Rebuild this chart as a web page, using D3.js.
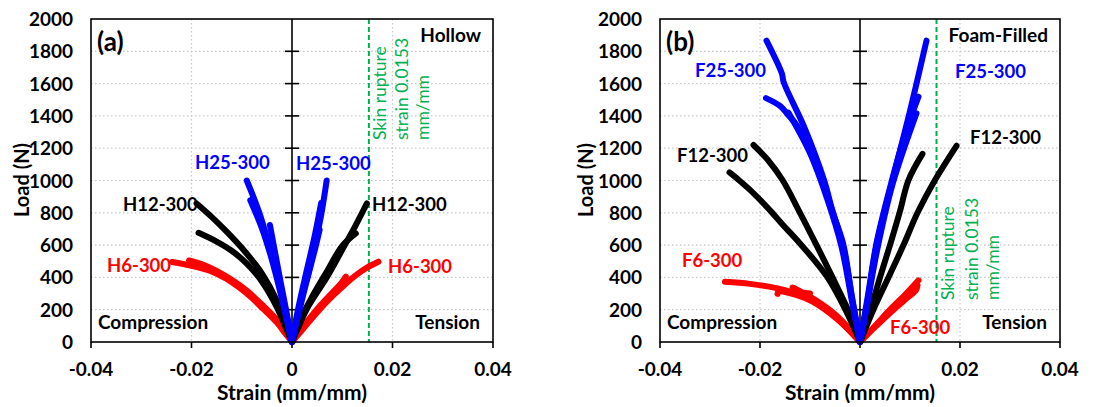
<!DOCTYPE html>
<html><head><meta charset="utf-8">
<script src="https://cdn.jsdelivr.net/npm/d3@7"></script>
<style>
html,body{margin:0;padding:0;background:#fff;}
svg{display:block;font-family:Lato,"Open Sans",sans-serif;}
</style></head>
<body><svg id="chart" width="1104" height="407"></svg>
<script>
// ---------- DATA (strain mm/mm, load N) ----------
const xTicks = [-0.04, -0.02, 0, 0.02, 0.04];
const yTicks = [0, 200, 400, 600, 800, 1000, 1200, 1400, 1600, 1800, 2000];
const ruptureStrain = 0.0153;
const ruptureText = ["Skin rupture", "strain 0.0153", "mm/mm"];

// Hollow specimens
const H6_C1 = [[0,0],[-0.0015,60],[-0.003,120],[-0.0058,207],[-0.009,300],[-0.013,390],[-0.016,437],[-0.020,472],[-0.0239,495]];
const H6_C2 = [[0,0],[-0.0015,72],[-0.003,138],[-0.006,232],[-0.009,318],[-0.012,385],[-0.015,440],[-0.018,482],[-0.0205,505]];
const H6_T1 = [[0,0],[0.0015,55],[0.0032,118],[0.0056,205],[0.008,282],[0.0105,355],[0.013,420],[0.015,462],[0.0172,497]];
const H6_T2 = [[0,0],[0.0015,68],[0.003,128],[0.0055,222],[0.008,305],[0.0098,365],[0.0107,405]];
const H12_C1 = [[0,0],[-0.001,85],[-0.003,255],[-0.006,425],[-0.0095,565],[-0.013,683],[-0.016,775],[-0.019,858]];
const H12_C2 = [[0,0],[-0.001,72],[-0.003,215],[-0.006,375],[-0.009,485],[-0.012,565],[-0.015,622],[-0.0186,676]];
const H12_T1 = [[0,0],[0.001,72],[0.003,207],[0.007,404],[0.0105,600],[0.0125,712],[0.0149,858]];
const H12_T2 = [[0,0],[0.0012,110],[0.004,280],[0.007,440],[0.010,595],[0.0127,672]];
const H25_C1 = [[0,0],[-0.001,150],[-0.002,300],[-0.0033,455],[-0.0048,625],[-0.0065,800],[-0.0077,900],[-0.009,1000]];
const H25_C2 = [[0,0],[-0.001,172],[-0.0022,362],[-0.0034,560],[-0.0044,725]];
const H25_C3 = [[0,0],[-0.0012,158],[-0.0025,330],[-0.0042,530],[-0.006,705],[-0.0083,878]];
const H25_T1 = [[0,0],[0.001,150],[0.002,280],[0.0033,430],[0.0047,620],[0.0058,785],[0.0069,1000]];
const H25_T2 = [[0,0],[0.001,172],[0.0025,385],[0.0045,655],[0.0058,860]];
const H25_T3 = [[0,0],[0.0012,160],[0.0028,362],[0.0045,565],[0.0055,695]];

// Foam-filled specimens
const F6_C1 = [[0,0],[-0.0025,82],[-0.005,160],[-0.008,232],[-0.012,292],[-0.0165,332],[-0.022,360],[-0.027,373]];
const F6_C2 = [[0,0],[-0.002,78],[-0.005,172],[-0.008,242],[-0.011,298],[-0.0135,338],[-0.0128,320],[-0.0100,300]];
const F6_C3 = [[0,0],[-0.003,98],[-0.006,178],[-0.0095,250],[-0.0128,292],[-0.0163,312],[-0.0165,298]];
const F6_T1 = [[0,0],[0.0033,110],[0.006,200],[0.009,292],[0.0117,382]];
const F6_T2 = [[0,0],[0.003,92],[0.006,180],[0.009,262],[0.0112,322],[0.0115,350]];
const F12_C1 = [[0,0],[-0.002,170],[-0.0055,400],[-0.0087,600],[-0.012,800],[-0.0155,1003],[-0.0185,1130],[-0.0213,1220]];
const F12_C2 = [[0,0],[-0.002,142],[-0.0065,400],[-0.012,610],[-0.0155,728],[-0.0185,832],[-0.022,942],[-0.0245,1010],[-0.0261,1050]];
const F12_T1 = [[0,0],[0.003,222],[0.006,420],[0.0087,600],[0.0115,800],[0.0150,1003],[0.0193,1215]];
const F12_T2 = [[0,0],[0.002,190],[0.004,400],[0.006,600],[0.008,810],[0.0097,1003],[0.0125,1165]];
const F25_C1 = [[0,0],[-0.0015,250],[-0.0033,600],[-0.0054,800],[-0.0072,1003],[-0.011,1320],[-0.0153,1612],[-0.0156,1660],[-0.0187,1866]];
const F25_C2 = [[0,0],[-0.0015,262],[-0.0035,605],[-0.006,855],[-0.009,1105],[-0.0125,1335],[-0.0147,1418],[-0.016,1462],[-0.0188,1510]];
const F25_C3 = [[0,0],[-0.0016,250],[-0.0037,590],[-0.0065,880],[-0.0100,1170],[-0.0143,1420]];
const F25_T1 = [[0,0],[0.0015,250],[0.0033,600],[0.0065,1003],[0.010,1430],[0.0133,1866]];
const F25_T2 = [[0,0],[0.0015,272],[0.0033,612],[0.006,955],[0.009,1285],[0.0117,1519]];
const F25_T3 = [[0,0],[0.0016,262],[0.0035,580],[0.0065,975],[0.0113,1416]];

const colors = {s6:"#FF0000", s12:"#000000", s25:"#0000FF"};

const hollowCurves = [
  {c:colors.s6, d:H6_C1},{c:colors.s6, d:H6_C2},{c:colors.s6, d:H6_T1},{c:colors.s6, d:H6_T2},
  {c:colors.s12,d:H12_C1},{c:colors.s12,d:H12_C2},{c:colors.s12,d:H12_T1},{c:colors.s12,d:H12_T2},
  {c:colors.s25,d:H25_C1},{c:colors.s25,d:H25_C2},{c:colors.s25,d:H25_C3},
  {c:colors.s25,d:H25_T1},{c:colors.s25,d:H25_T2},{c:colors.s25,d:H25_T3}
];
const foamCurves = [
  {c:colors.s6, d:F6_C1},{c:colors.s6, d:F6_C2},{c:colors.s6, d:F6_C3},{c:colors.s6, d:F6_T1},{c:colors.s6, d:F6_T2},
  {c:colors.s12,d:F12_C1},{c:colors.s12,d:F12_C2},{c:colors.s12,d:F12_T1},{c:colors.s12,d:F12_T2},
  {c:colors.s25,d:F25_C1},{c:colors.s25,d:F25_C2},{c:colors.s25,d:F25_C3},
  {c:colors.s25,d:F25_T1},{c:colors.s25,d:F25_T2},{c:colors.s25,d:F25_T3}
];

// ---------- LAYOUT ----------
const panels = [
  {x0:91, x1:493, tag:"(a)", title:"Hollow", curves:hollowCurves,
   labels:[
     {t:"H25-300", c:colors.s25, x:195, y:169, a:"start"},
     {t:"H25-300", c:colors.s25, x:296, y:170, a:"start"},
     {t:"H12-300", c:colors.s12, x:123, y:211, a:"start"},
     {t:"H12-300", c:colors.s12, x:372, y:211, a:"start"},
     {t:"H6-300",  c:colors.s6,  x:107, y:272, a:"start"},
     {t:"H6-300",  c:colors.s6,  x:388, y:273, a:"start"}
   ],
   rupY:140, rupX:[386,408,429], ylabX:29},
  {x0:660, x1:1060, tag:"(b)", title:"Foam-Filled", curves:foamCurves,
   labels:[
     {t:"F25-300", c:colors.s25, x:695, y:77, a:"start"},
     {t:"F25-300", c:colors.s25, x:955, y:78, a:"start"},
     {t:"F12-300", c:colors.s12, x:677, y:162, a:"start"},
     {t:"F12-300", c:colors.s12, x:970, y:144, a:"start"},
     {t:"F6-300",  c:colors.s6,  x:682, y:267, a:"start"},
     {t:"F6-300",  c:colors.s6,  x:890, y:334, a:"start"}
   ],
   rupY:300, rupX:[954,978,999], ylabX:593}
];
const yTop = 19, yBot = 342;
const FS = 19;
const svg = d3.select("#chart");

panels.forEach(p => {
  const x = d3.scaleLinear().domain([-0.04, 0.04]).range([p.x0, p.x1]);
  const y = d3.scaleLinear().domain([0, 2000]).range([yBot, yTop]);
  const g = svg.append("g");

  // grid
  g.selectAll(".hg").data(yTicks.filter(v => v > 0 && v < 2000)).enter().append("line")
    .attr("x1", p.x0).attr("x2", p.x1).attr("y1", d => y(d)).attr("y2", d => y(d))
    .attr("stroke", "#c8c8c8").attr("stroke-width", 1.2).attr("stroke-dasharray", "1.5,2.5");
  g.selectAll(".vg").data([-0.02, 0.02]).enter().append("line")
    .attr("x1", d => x(d)).attr("x2", d => x(d)).attr("y1", yTop).attr("y2", yBot)
    .attr("stroke", "#c8c8c8").attr("stroke-width", 1.2).attr("stroke-dasharray", "1.5,2.5");

  // centre axis with crossing ticks
  g.append("line").attr("x1", x(0)).attr("x2", x(0)).attr("y1", yTop).attr("y2", yBot)
    .attr("stroke", "#000").attr("stroke-width", 1.6);
  g.selectAll(".ct").data(yTicks.filter(v => v > 0 && v < 2000)).enter().append("line")
    .attr("x1", x(0) - 7).attr("x2", x(0) + 7).attr("y1", d => y(d)).attr("y2", d => y(d))
    .attr("stroke", "#000").attr("stroke-width", 1.6);

  // rupture line
  g.append("line").attr("x1", x(ruptureStrain)).attr("x2", x(ruptureStrain)).attr("y1", yTop).attr("y2", yBot)
    .attr("stroke", "#00B050").attr("stroke-width", 2).attr("stroke-dasharray", "5,3");

  // curves
  const line = d3.line().x(d => x(d[0])).y(d => y(d[1])).curve(d3.curveCatmullRom.alpha(0.5));
  g.selectAll(".curve").data(p.curves).enter().append("path")
    .attr("d", d => line(d.d)).attr("fill", "none").attr("stroke", d => d.c)
    .attr("stroke-width", 6).attr("stroke-linecap", "round").attr("stroke-linejoin", "round");

  // frame
  g.append("rect").attr("x", p.x0).attr("y", yTop).attr("width", p.x1 - p.x0).attr("height", yBot - yTop)
    .attr("fill", "none").attr("stroke", "#000").attr("stroke-width", 1.6);

  // bottom ticks
  g.selectAll(".bt").data(xTicks).enter().append("line")
    .attr("x1", d => x(d)).attr("x2", d => x(d)).attr("y1", yBot).attr("y2", yBot + 6)
    .attr("stroke", "#000").attr("stroke-width", 1.6);

  // tick labels
  g.selectAll(".yl").data(yTicks).enter().append("text")
    .attr("x", p.x0 - 18).attr("y", d => y(d) + 7).attr("text-anchor", "end")
    .attr("font-size", FS).attr("font-weight", "bold").text(d => d);
  g.selectAll(".xl").data(xTicks).enter().append("text")
    .attr("x", d => x(d)).attr("y", 376).attr("text-anchor", "middle")
    .attr("font-size", FS).attr("font-weight", "bold").text(d => d === 0 ? "0" : d.toFixed(2));

  // axis titles
  g.append("text").attr("x", (p.x0 + p.x1) / 2).attr("y", 400).attr("text-anchor", "middle")
    .attr("font-size", 21).attr("font-weight", "bold").text("Strain (mm/mm)");
  g.append("text").attr("transform", `translate(${p.ylabX},180) rotate(-90)`).attr("text-anchor", "middle")
    .attr("font-size", 20).attr("font-weight", "bold").text("Load (N)");

  // corner texts
  g.append("text").attr("x", p.x0 + 6).attr("y", 51).attr("font-size", 26).attr("font-weight", "bold").text(p.tag);
  g.append("text").attr("x", p.x1 - 12).attr("y", 42).attr("text-anchor", "end")
    .attr("font-size", FS).attr("font-weight", "bold").text(p.title);
  g.append("text").attr("x", p.x0 + 7).attr("y", 329).attr("font-size", FS).attr("font-weight", "bold").text("Compression");
  g.append("text").attr("x", p.x1 - 13).attr("y", 329).attr("text-anchor", "end")
    .attr("font-size", FS).attr("font-weight", "bold").text("Tension");

  // series labels
  g.selectAll(".lab").data(p.labels).enter().append("text")
    .attr("x", d => d.x).attr("y", d => d.y).attr("text-anchor", d => d.a)
    .attr("fill", d => d.c).attr("font-size", 18.5).attr("font-weight", "bold").text(d => d.t);

  // rupture text
  ruptureText.forEach((t, i) => {
    g.append("text").attr("transform", `translate(${p.rupX[i]},${p.rupY}) rotate(-90)`)
      .attr("fill", "#00B050").attr("font-size", 17.5).text(t);
  });
});
</script>
</body></html>
